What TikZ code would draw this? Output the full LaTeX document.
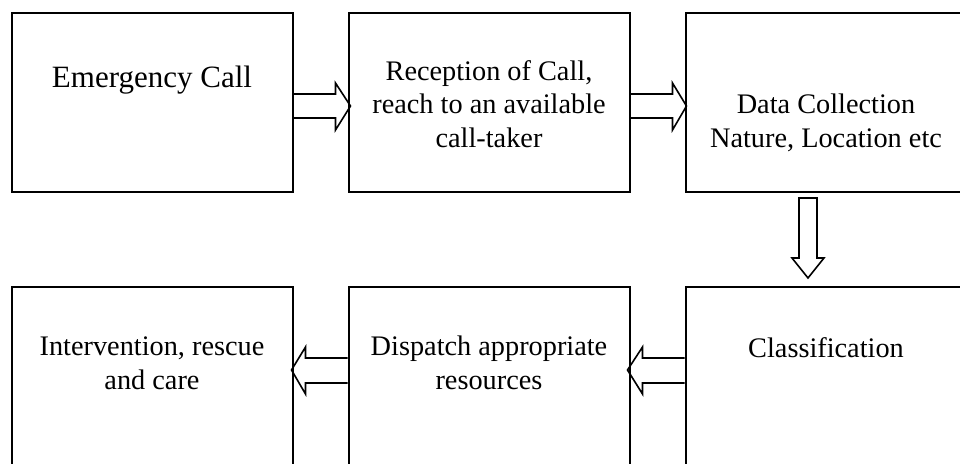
\documentclass[tikz,border=0pt]{standalone}
\usepackage{fontspec}
\setmainfont{Liberation Serif}
\usetikzlibrary{positioning, calc}

\begin{document}
\begin{tikzpicture}[x=0.5pt, y=-0.5pt,
    box/.style={draw, line width=1pt, minimum width=140.5pt, minimum height=89.5pt, inner sep=0pt},
    txt/.style={align=center, inner sep=0pt, anchor=base, font=\fontsize{14.15}{16.75}\selectfont},
    blockarrow/.style={draw, line width=0.8pt, line join=miter}]
        \useasboundingbox (0,0) rectangle (960,463);
        \clip (0,0) rectangle (960,463);
        % boxes
        \node[box] (call) at (152,102.5) {};
        \node[box, right=27pt of call] (recep) {};
        \node[box, right=27pt of recep] (datacol) {};
        \node[box, below=46.5pt of datacol] (classif) {};
        \node[box, left=27pt of classif] (dispatch) {};
        \node[box, left=27pt of dispatch] (interv) {};
        % texts (base = last line)
        \node[txt, font=\fontsize{15.5}{18}\selectfont] (call-t) at ($(call.north)+(0,75)$) {Emergency Call};
        \node[txt] (recep-t) at ($(recep.north)+(0,135)$) {Reception of Call,\\reach to an available\\call-taker};
        \node[txt] (datacol-t) at ($(datacol.north)+(0,135)$) {Data Collection\\Nature, Location etc};
        \node[txt] (classif-t) at ($(classif.north)+(0,71)$) {Classification};
        \node[txt] (dispatch-t) at ($(dispatch.north)+(0,103)$) {Dispatch appropriate\\resources};
        \node[txt] (interv-t) at ($(interv.north)+(0,103)$) {Intervention, rescue\\and care};
        % block arrows
        \draw[blockarrow] (call.east) ++(0,-8.5) -- ++(42,0) -- ++(0,-11) -- ++(15,23) -- ++(-15,24) -- ++(0,-12) -- ++(-42,0);
        \draw[blockarrow] (recep.east) ++(0,-8.5) -- ++(42,0) -- ++(0,-11) -- ++(14,23) -- ++(-14,24) -- ++(0,-12) -- ++(-42,0);
        \draw[blockarrow] (datacol.south) ++(-27,5) -- ++(0,60) -- ++(-7,0) -- ++(16,20) -- ++(16,-20) -- ++(-7,0) -- ++(0,-60) -- cycle;
        \draw[blockarrow] (classif.west) ++(0,-18.5) -- ++(-42,0) -- ++(0,-11) -- ++(-15,23) -- ++(15,24) -- ++(0,-11) -- ++(42,0);
        \draw[blockarrow] (dispatch.west) ++(0,-18.5) -- ++(-42,0) -- ++(0,-11) -- ++(-14,23) -- ++(14,24) -- ++(0,-11) -- ++(42,0);
\end{tikzpicture}
\end{document}
